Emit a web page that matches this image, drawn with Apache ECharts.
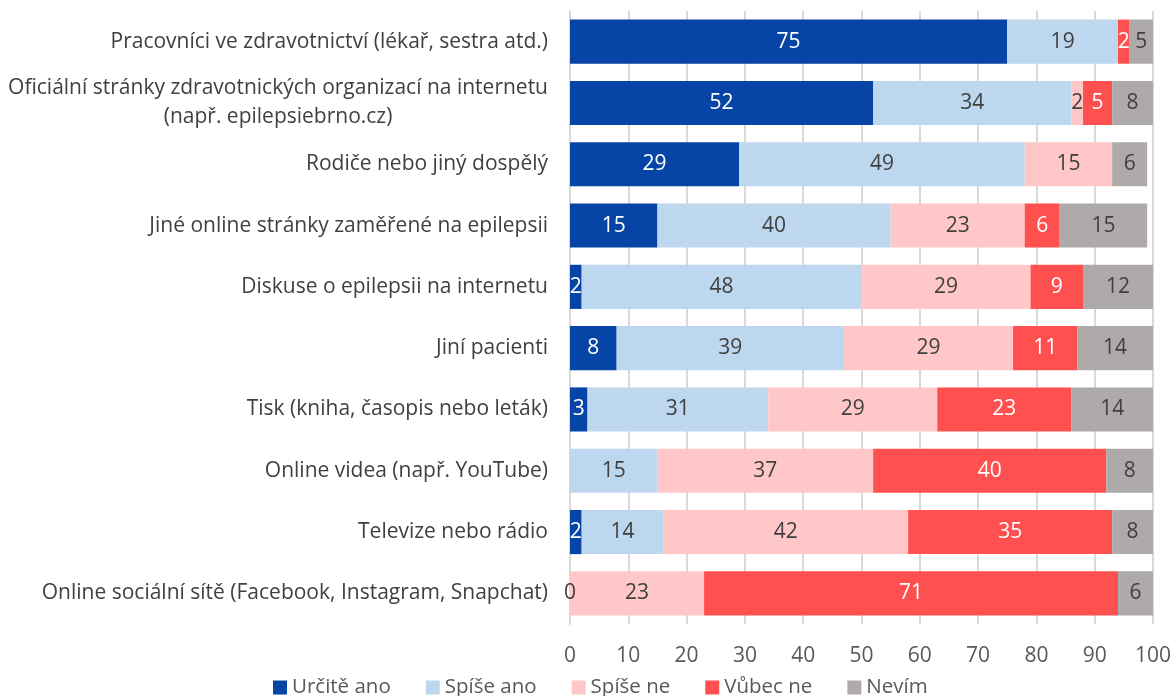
<!DOCTYPE html>
<html>
<head>
<meta charset="utf-8">
<script src="https://cdn.jsdelivr.net/npm/echarts@6/dist/echarts.min.js"></script>
<style>
  html, body { margin: 0; padding: 0; background: #fff; }
  #chart { width: 1174px; height: 696px; }
</style>
</head>
<body>
<div id="chart"></div>
<script>
// Sources of information about epilepsy, share of answers in %
const categories = [
  'Pracovníci ve zdravotnictví (lékař, sestra atd.)',
  'Oficiální stránky zdravotnických organizací na internetu\n(např. epilepsiebrno.cz)',
  'Rodiče nebo jiný dospělý',
  'Jiné online stránky zaměřené na epilepsii',
  'Diskuse o epilepsii na internetu',
  'Jiní pacienti',
  'Tisk (kniha, časopis nebo leták)',
  'Online videa (např. YouTube)',
  'Televize nebo rádio',
  'Online sociální sítě (Facebook, Instagram, Snapchat)'
];
const seriesNames = ['Určitě ano', 'Spíše ano', 'Spíše ne', 'Vůbec ne', 'Nevím'];
// null = answer not present for that source
const urciteAno = [75, 52, 29, 15, 2, 8, 3, null, 2, null];
const spiseAno  = [19, 34, 49, 40, 48, 39, 31, 15, 14, 0];
const spiseNe   = [null, 2, 15, 23, 29, 29, 29, 37, 42, 23];
const vubecNe   = [2, 5, null, 6, 9, 11, 23, 40, 35, 71];
const nevim     = [5, 8, 6, 15, 12, 14, 14, 8, 8, 6];
const xTicks = { min: 0, max: 100, step: 10 };

const colors = ['#0645A6', '#BDD7EE', '#FFC7C7', '#FF5050', '#AEAAAA'];
const labelColors = ['#ffffff', '#404040', '#404040', '#ffffff', '#404040'];
const values = [urciteAno, spiseAno, spiseNe, vubecNe, nevim];
const FONT = '"Open Sans", sans-serif';
const FS = 21;

const chart = echarts.init(document.getElementById('chart'), null, { renderer: 'canvas' });

chart.setOption({
  animation: false,
  grid: { left: 570, right: 21, top: 11, bottom: 72, containLabel: false },
  legend: {
    data: seriesNames,
    left: 268,
    top: 672,
    icon: 'rect',
    itemWidth: 14,
    itemHeight: 14,
    itemGap: 35,
    textStyle: { fontFamily: FONT, fontSize: 20.5, color: '#595959' }
  },
  xAxis: {
    type: 'value',
    min: xTicks.min,
    max: xTicks.max,
    interval: xTicks.step,
    axisLine: { show: false },
    axisTick: { show: false },
    splitLine: { show: true, lineStyle: { color: '#d9d9d9', width: 2 } },
    axisLabel: { fontFamily: FONT, fontSize: FS, color: '#595959', margin: 22 }
  },
  yAxis: {
    type: 'category',
    data: categories,
    inverse: true,
    axisLine: { show: true, lineStyle: { color: '#d9d9d9', width: 2 } },
    axisTick: { show: false },
    axisLabel: {
      margin: 22,
      formatter: function (v) {
        return v.split('\n').map(function (s) { return '{c|' + s + '}'; }).join('\n');
      },
      rich: {
        c: { fontFamily: FONT, fontSize: FS, color: '#404040', align: 'center', lineHeight: 29 }
      }
    }
  },
  series: seriesNames.map(function (name, i) {
    return {
      name: name,
      type: 'bar',
      stack: 'total',
      barCategoryGap: '28%',
      data: values[i],
      itemStyle: { color: colors[i] },
      label: {
        show: true,
        position: 'inside',
        fontFamily: FONT,
        fontSize: FS,
        color: labelColors[i],
        formatter: function (p) { return p.value == null ? '' : String(p.value); }
      }
    };
  })
});
</script>
</body>
</html>
